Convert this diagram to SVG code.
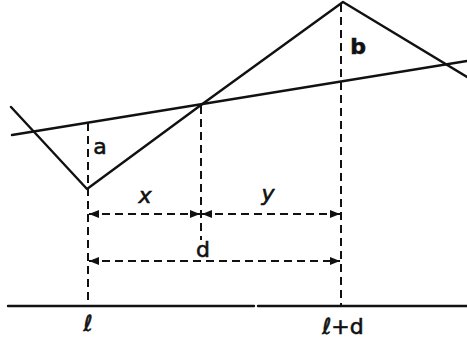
<svg xmlns="http://www.w3.org/2000/svg" width="467" height="341" viewBox="0 0 467 341">
<style>
.s{fill:none;stroke:#111;stroke-width:2.4;stroke-linecap:round;stroke-linejoin:round}
.d{fill:none;stroke:#111;stroke-width:2;stroke-dasharray:8,5}
.t{font-family:"DejaVu Sans",sans-serif;font-size:22px;fill:#111;stroke:#111;stroke-width:0.6;text-anchor:middle}
.i{font-style:italic}
</style>
<defs>
<marker id="ah" viewBox="0 0 10 8" refX="10" refY="4" markerWidth="10" markerHeight="8" markerUnits="userSpaceOnUse" orient="auto-start-reverse">
<path d="M0,0 L10,4 L0,8 Z" fill="#111"/>
</marker>
</defs>
<rect width="467" height="341" fill="#fff"/>
<g id="curve">
<polyline class="s" points="11,107 87,189 201,105 343,2 467,77"/>
</g>
<g id="secant">
<line class="s" x1="12" y1="135" x2="467" y2="61"/>
</g>
<g id="ground">
<line class="s" x1="8" y1="306" x2="254" y2="306"/>
<line class="s" x1="258" y1="306" x2="467" y2="306"/>
</g>
<g id="connectors">
<line class="d" x1="88" y1="123" x2="88" y2="305"/>
<line class="d" x1="201" y1="106" x2="201" y2="240"/>
<line class="d" x1="341" y1="4" x2="341" y2="305"/>
<line class="d" x1="89" y1="214" x2="200" y2="214" marker-start="url(#ah)" marker-end="url(#ah)"/>
<line class="d" x1="202" y1="214" x2="340" y2="214" marker-start="url(#ah)" marker-end="url(#ah)"/>
<line class="d" x1="89" y1="261" x2="340" y2="261" marker-start="url(#ah)" marker-end="url(#ah)"/>
</g>
<g id="labels">
<text class="t" x="100" y="154">a</text>
<text class="t" x="358" y="54" style="font-weight:bold">b</text>
<text class="t i" x="145" y="203">x</text>
<text class="t i" x="268" y="201">y</text>
<text class="t" x="203" y="257">d</text>
<text class="t" x="88" y="331">ℓ</text>
<text class="t" x="343" y="334">ℓ+d</text>
</g>
</svg>
